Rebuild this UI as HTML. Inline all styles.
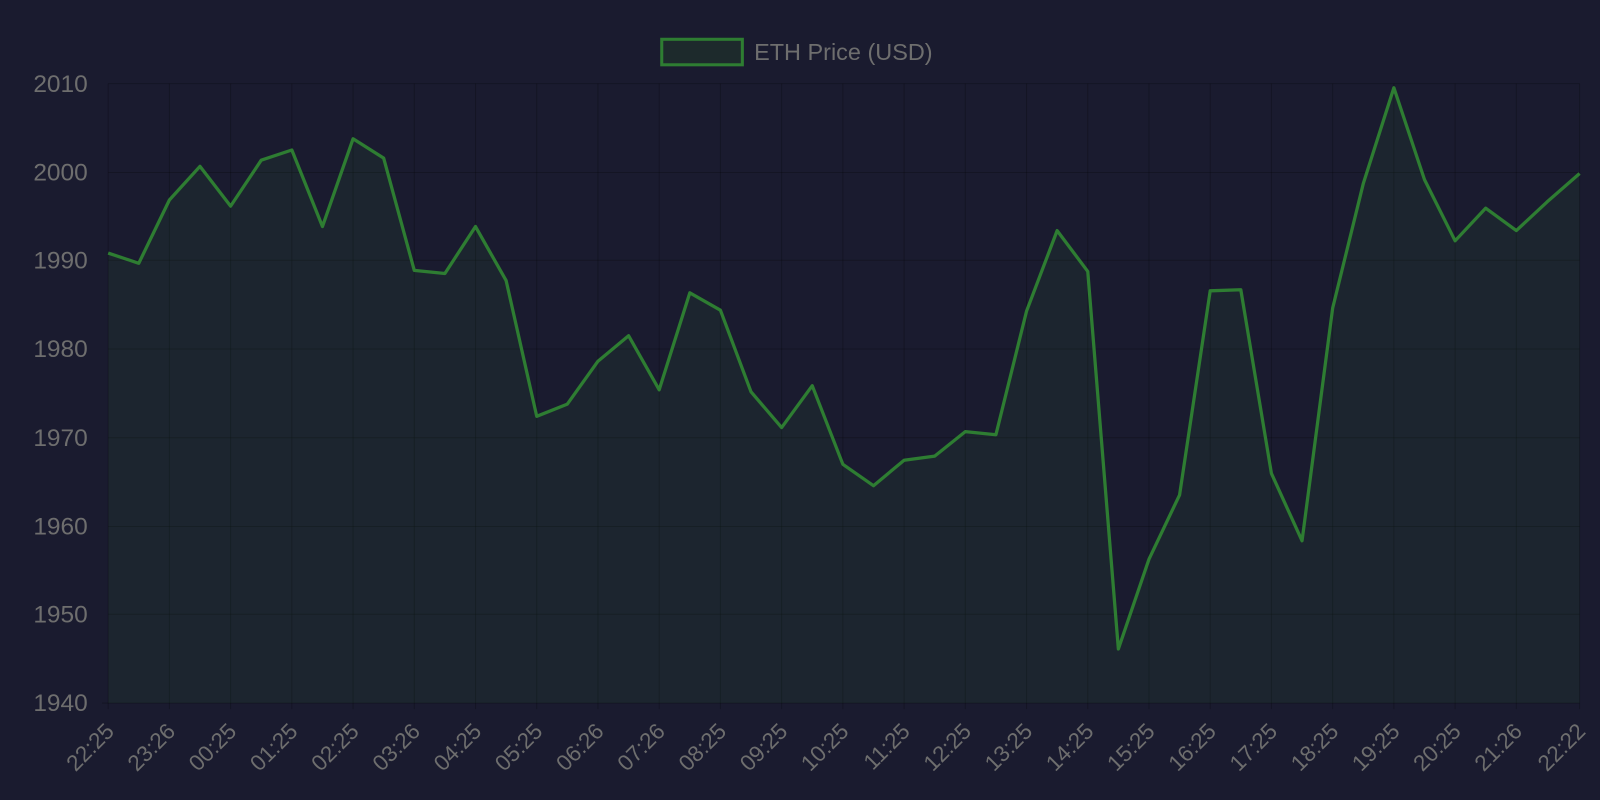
<!DOCTYPE html>
<html><head><meta charset="utf-8"><style>
html,body{margin:0;padding:0;background:#1a1b2f;overflow:hidden;}
svg{display:block;font-family:"Liberation Sans",sans-serif;}
</style></head><body>
<svg width="1600" height="800" viewBox="0 0 1568 784">
<rect width="1568" height="784" fill="#1a1b2f"/>
<g stroke="rgba(0,0,0,0.22)" stroke-width="1">
<line x1="106" y1="82" x2="1548" y2="82"/><line x1="106" y1="169" x2="1548" y2="169"/><line x1="106" y1="255" x2="1548" y2="255"/><line x1="106" y1="342" x2="1548" y2="342"/><line x1="106" y1="429" x2="1548" y2="429"/><line x1="106" y1="516" x2="1548" y2="516"/><line x1="106" y1="602" x2="1548" y2="602"/><line x1="100" y1="689" x2="1548" y2="689"/>
<line x1="106" y1="82" x2="106" y2="695"/><line x1="166" y1="82" x2="166" y2="695"/><line x1="226" y1="82" x2="226" y2="695"/><line x1="286" y1="82" x2="286" y2="695"/><line x1="346" y1="82" x2="346" y2="695"/><line x1="406" y1="82" x2="406" y2="695"/><line x1="466" y1="82" x2="466" y2="695"/><line x1="526" y1="82" x2="526" y2="695"/><line x1="586" y1="82" x2="586" y2="695"/><line x1="646" y1="82" x2="646" y2="695"/><line x1="706" y1="82" x2="706" y2="695"/><line x1="766" y1="82" x2="766" y2="695"/><line x1="826" y1="82" x2="826" y2="695"/><line x1="886" y1="82" x2="886" y2="695"/><line x1="946" y1="82" x2="946" y2="695"/><line x1="1006" y1="82" x2="1006" y2="695"/><line x1="1066" y1="82" x2="1066" y2="695"/><line x1="1126" y1="82" x2="1126" y2="695"/><line x1="1186" y1="82" x2="1186" y2="695"/><line x1="1246" y1="82" x2="1246" y2="695"/><line x1="1306" y1="82" x2="1306" y2="695"/><line x1="1366" y1="82" x2="1366" y2="695"/><line x1="1426" y1="82" x2="1426" y2="695"/><line x1="1486" y1="82" x2="1486" y2="695"/><line x1="1548" y1="82" x2="1548" y2="695"/>
</g>
<path d="M106,248 L136,258 L166,196 L196,163 L226,202 L256,157 L286,147 L316,222 L346,136 L376,155 L406,265 L436,268 L466,222 L496,275 L526,408 L556,396 L586,354 L616,329 L646,382 L676,287 L706,304 L736,384 L766,419 L796,378 L826,455 L856,476 L886,451 L916,447 L946,423 L976,426 L1006,305 L1036,226 L1066,266 L1096,636 L1126,548 L1156,485 L1186,285 L1216,284 L1246,464 L1276,530 L1306,302 L1336,180 L1366,86 L1396,176 L1426,236 L1456,204 L1486,226 L1516,198 L1548,170 L1548,689 L106,689 Z" fill="rgba(46,125,50,0.1)"/>
<path d="M106,248 L136,258 L166,196 L196,163 L226,202 L256,157 L286,147 L316,222 L346,136 L376,155 L406,265 L436,268 L466,222 L496,275 L526,408 L556,396 L586,354 L616,329 L646,382 L676,287 L706,304 L736,384 L766,419 L796,378 L826,455 L856,476 L886,451 L916,447 L946,423 L976,426 L1006,305 L1036,226 L1066,266 L1096,636 L1126,548 L1156,485 L1186,285 L1216,284 L1246,464 L1276,530 L1306,302 L1336,180 L1366,86 L1396,176 L1426,236 L1456,204 L1486,226 L1516,198 L1548,170" fill="none" stroke="#2e7d32" stroke-width="3.2" stroke-linejoin="round"/>
<g fill="#6e6e6e" font-size="24" text-anchor="end">
<text x="86" y="90">2010</text><text x="86" y="177">2000</text><text x="86" y="263">1990</text><text x="86" y="350">1980</text><text x="86" y="437">1970</text><text x="86" y="524">1960</text><text x="86" y="610">1950</text><text x="86" y="697">1940</text>
</g>
<g fill="#6e6e6e" font-size="22" text-anchor="end">
<text transform="translate(113,718) rotate(-45)">22:25</text>
<text transform="translate(173,718) rotate(-45)">23:26</text>
<text transform="translate(233,718) rotate(-45)">00:25</text>
<text transform="translate(293,718) rotate(-45)">01:25</text>
<text transform="translate(353,718) rotate(-45)">02:25</text>
<text transform="translate(413,718) rotate(-45)">03:26</text>
<text transform="translate(473,718) rotate(-45)">04:25</text>
<text transform="translate(533,718) rotate(-45)">05:25</text>
<text transform="translate(593,718) rotate(-45)">06:26</text>
<text transform="translate(653,718) rotate(-45)">07:26</text>
<text transform="translate(713,718) rotate(-45)">08:25</text>
<text transform="translate(773,718) rotate(-45)">09:25</text>
<text transform="translate(833,718) rotate(-45)">10:25</text>
<text transform="translate(893,718) rotate(-45)">11:25</text>
<text transform="translate(953,718) rotate(-45)">12:25</text>
<text transform="translate(1013,718) rotate(-45)">13:25</text>
<text transform="translate(1073,718) rotate(-45)">14:25</text>
<text transform="translate(1133,718) rotate(-45)">15:25</text>
<text transform="translate(1193,718) rotate(-45)">16:25</text>
<text transform="translate(1253,718) rotate(-45)">17:25</text>
<text transform="translate(1313,718) rotate(-45)">18:25</text>
<text transform="translate(1373,718) rotate(-45)">19:25</text>
<text transform="translate(1433,718) rotate(-45)">20:25</text>
<text transform="translate(1493,718) rotate(-45)">21:26</text>
<text transform="translate(1555,718) rotate(-45)">22:22</text>
</g>
<rect x="648.5" y="38.5" width="79" height="25" fill="#1d2a2c" stroke="#2e7d32" stroke-width="3"/>
<text x="739" y="59" fill="#6e6e6e" font-size="23">ETH Price (USD)</text>
</svg>
</body></html>
